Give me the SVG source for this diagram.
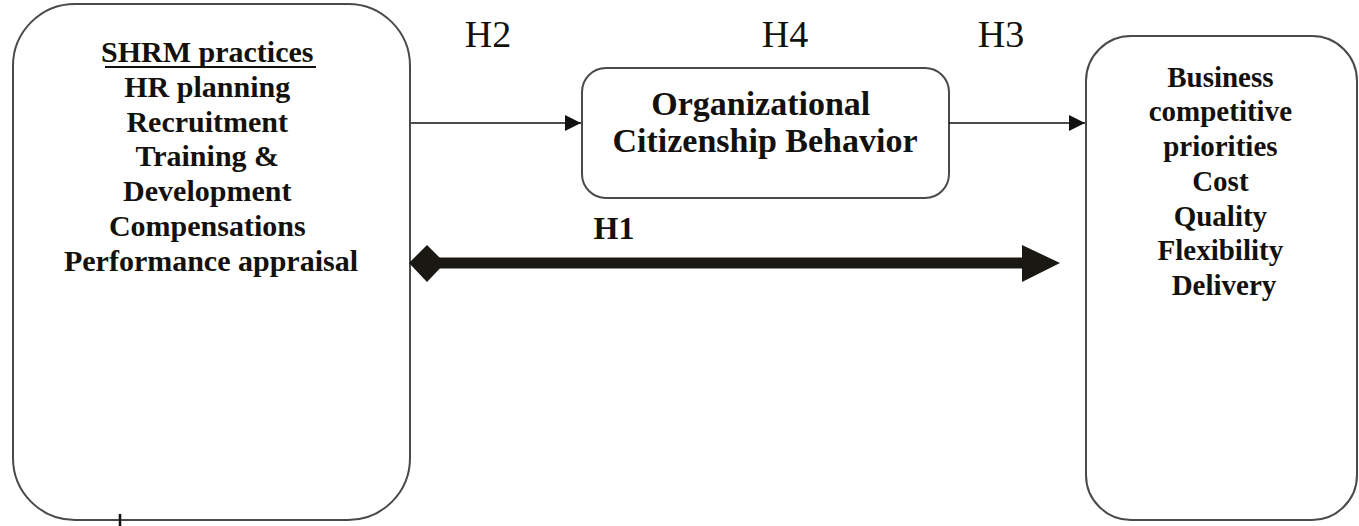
<svg xmlns="http://www.w3.org/2000/svg" width="1359" height="526" viewBox="0 0 1359 526">
<style>
.box{fill:#fff;stroke:#4a4a4a;stroke-width:2}
.t{font-family:"Liberation Serif","Times New Roman",serif;font-weight:bold;fill:#14110c;text-anchor:middle}
.h{font-family:"Liberation Serif","Times New Roman",serif;font-weight:normal;fill:#14110c;text-anchor:middle;font-size:38px}
.thin{stroke:#111;stroke-width:1.6;fill:none}
</style>
<defs>
<marker id="ah" viewBox="0 0 16 16" refX="16" refY="8" markerWidth="16" markerHeight="16" markerUnits="userSpaceOnUse" orient="auto">
<path d="M0,0 L16,8 L0,16 Z" fill="#111"/>
</marker>
</defs>
<rect width="1359" height="526" fill="#fff"/>
<g id="shrm">
<rect class="box" x="13" y="4" width="397" height="516" rx="62" ry="62"/>
<text class="t" font-size="30">
<tspan x="211" y="62">SHRM practices</tspan>
<tspan x="211" y="97">HR planning</tspan>
<tspan x="211" y="132">Recruitment</tspan>
<tspan x="211" y="166">Training &amp;</tspan>
<tspan x="211" y="201">Development</tspan>
<tspan x="211" y="236">Compensations</tspan>
<tspan x="211" y="271">Performance appraisal</tspan>
</text>
<line x1="105" y1="67" x2="316" y2="67" stroke="#14110c" stroke-width="2"/>
<line x1="120" y1="514" x2="120" y2="526" stroke="#111" stroke-width="2.5"/>
</g>
<g id="ocb">
<rect class="box" x="582" y="68" width="367" height="130" rx="24" ry="24"/>
<text class="t" font-size="34">
<tspan x="765" y="115">Organizational</tspan>
<tspan x="765" y="152">Citizenship Behavior</tspan>
</text>
</g>
<g id="bcp">
<rect class="box" x="1086" y="36" width="271" height="484" rx="45" ry="45"/>
<text class="t" font-size="29">
<tspan x="1224" y="87">Business</tspan>
<tspan x="1224" y="121">competitive</tspan>
<tspan x="1224" y="156">priorities</tspan>
<tspan x="1224" y="191">Cost</tspan>
<tspan x="1224" y="226">Quality</tspan>
<tspan x="1224" y="260">Flexibility</tspan>
<tspan x="1224" y="295">Delivery</tspan>
</text>
</g>
<g id="connectors">
<line class="thin" x1="411" y1="123" x2="581" y2="123" marker-end="url(#ah)"/>
<line class="thin" x1="949" y1="123" x2="1085" y2="123" marker-end="url(#ah)"/>
<line x1="430" y1="263" x2="1030" y2="263" stroke="#1a1813" stroke-width="11"/>
<polygon points="409,263 427,245 445,263 427,282" fill="#1a1813"/>
<polygon points="1022,245 1060,263 1022,282" fill="#1a1813"/>
<text class="h" x="488" y="47">H2</text>
<text class="h" x="785" y="47">H4</text>
<text class="h" x="1001" y="47">H3</text>
<text class="t" font-size="32" x="614" y="239">H1</text>
</g>
</svg>
